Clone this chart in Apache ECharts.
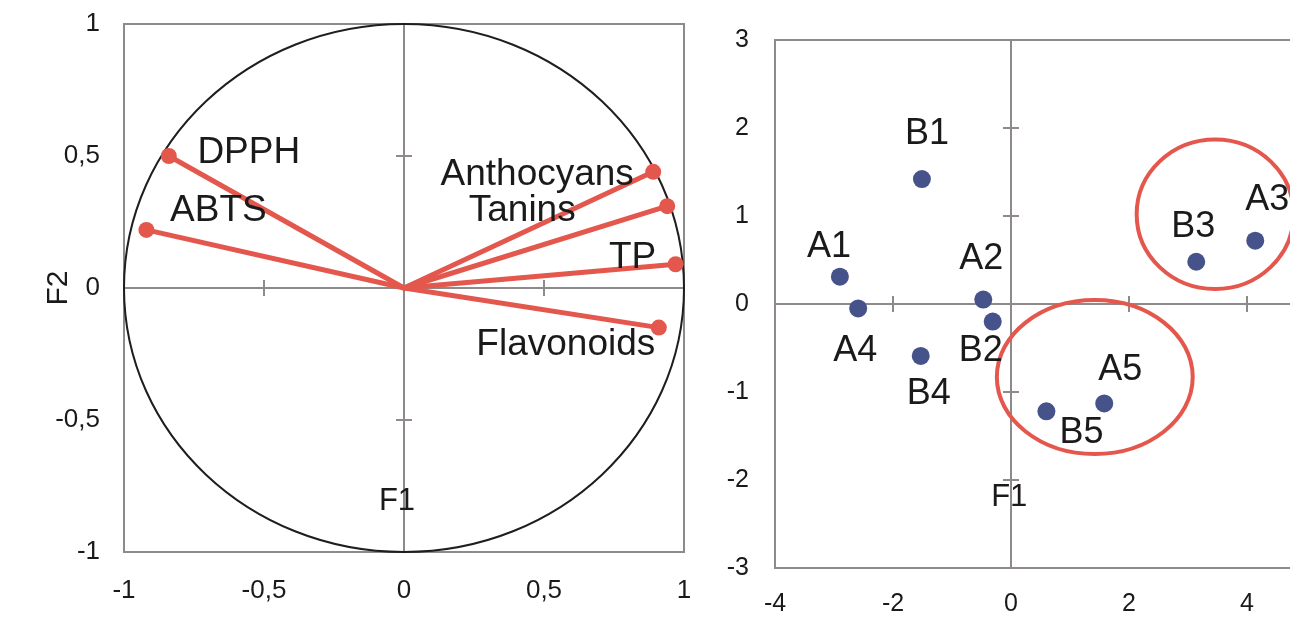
<!DOCTYPE html>
<html>
<head>
<meta charset="utf-8">
<script src="https://cdn.jsdelivr.net/npm/echarts@6/dist/echarts.min.js"></script>
<style>
  html, body { margin: 0; padding: 0; background: #ffffff; }
  #chart { width: 1290px; height: 619px; }
</style>
</head>
<body>
<div id="chart"></div>
<script>
// Correlation circle: loadings of each variable on F1 / F2
const variables = ['DPPH', 'ABTS', 'Anthocyans', 'Tanins', 'TP', 'Flavonoids'];
const varF1 = [-0.84, -0.92, 0.89, 0.94, 0.97, 0.91];
const varF2 = [0.50, 0.22, 0.44, 0.31, 0.09, -0.15];

// Score plot: sample coordinates on F1 / F2
const samples = ['A1', 'A2', 'A3', 'A4', 'A5', 'B1', 'B2', 'B3', 'B4', 'B5'];
const sampleF1 = [-2.90, -0.47, 4.14, -2.59, 1.58, -1.51, -0.31, 3.14, -1.53, 0.60];
const sampleF2 = [0.31, 0.05, 0.72, -0.05, -1.13, 1.42, -0.20, 0.48, -0.59, -1.22];

// Highlighted groups (centre and half-axes, in score units)
const groupCx = [3.46, 1.42];
const groupCy = [1.02, -0.83];
const groupRx = [1.33, 1.66];
const groupRy = [0.85, 0.875];

// Axis ranges and tick steps
const loadRange = [-1, 1], loadStep = 0.5;
const scoreXRange = [-4, 6], scoreXStep = 2;
const scoreYRange = [-3, 3], scoreYStep = 1;

// Label placement (pixel offsets from each marker centre)
const varLabelOffset = {
  DPPH: [80, -3], ABTS: [72, -19], Anthocyans: [-116, 3],
  Tanins: [-145, 5], TP: [-43, -6], Flavonoids: [-93, 17]
};
const sampleLabelOffset = {
  A1: [-11, -30], A2: [-2, -41], A3: [12, -41], A4: [-3, 43], A5: [16, -33],
  B1: [5, -45], B2: [-12, 29], B3: [-3, -35], B4: [8, 38], B5: [35, 22]
};

const FONT = '"Liberation Sans", Arial, sans-serif';
const AXIS_GREY = '#8e8a8a';
const RED = '#e3574d';
const NAVY = '#46528a';
const INK = '#1a1a1a';

const comma = v => String(v).replace('.', ',');

// Three axes per direction per grid: one carrying labels along the frame,
// two sitting on zero (ticks pointing out and in) to draw crossing ticks.
function axisSet(dim, gridIndex, range, step, labelFmt, labelMargin, fontSize, extra) {
  const base = {
    type: 'value', gridIndex, min: range[0], max: range[1], interval: step,
    splitLine: { show: false }
  };
  const frame = Object.assign({}, base, {
    position: dim === 'x' ? 'bottom' : 'left',
    axisLine: { show: false, onZero: false },
    axisTick: { show: false },
    axisLabel: {
      show: true, formatter: labelFmt, margin: labelMargin,
      color: INK, fontSize, fontFamily: FONT,
      showMaxLabel: true, showMinLabel: true
    }
  }, extra || {});
  const zeroOut = Object.assign({}, base, {
    axisLine: { show: true, onZero: true, lineStyle: { color: AXIS_GREY, width: 2 } },
    axisTick: { show: true, inside: false, length: 8, lineStyle: { color: AXIS_GREY, width: 2 } },
    axisLabel: { show: false }
  });
  const zeroIn = Object.assign({}, base, {
    axisLine: { show: false, onZero: true },
    axisTick: { show: true, inside: true, length: 8, lineStyle: { color: AXIS_GREY, width: 2 } },
    axisLabel: { show: false }
  });
  return [frame, zeroOut, zeroIn];
}

const xAxes = [
  ...axisSet('x', 0, loadRange, loadStep, comma, 26, 26),
  ...axisSet('x', 1, scoreXRange, scoreXStep, v => String(v), 24, 25)
];
const yAxes = [
  ...axisSet('y', 0, loadRange, loadStep, comma, 24, 26, {
    name: 'F2', nameLocation: 'middle', nameGap: 50, nameRotate: 90,
    nameMoveOverlap: false,
    nameTextStyle: { color: INK, fontSize: 30, fontFamily: FONT }
  }),
  ...axisSet('y', 1, scoreYRange, scoreYStep, v => String(v), 26, 25)
];

// Loading vectors from the origin
const vectorSeries = {
  type: 'custom', xAxisIndex: 0, yAxisIndex: 0, z: 3, silent: true,
  data: variables.map((n, i) => [varF1[i], varF2[i]]),
  renderItem: (params, api) => {
    const o = api.coord([0, 0]);
    const p = api.coord([api.value(0), api.value(1)]);
    return {
      type: 'line',
      shape: { x1: o[0], y1: o[1], x2: p[0], y2: p[1] },
      style: { stroke: RED, lineWidth: 5, lineCap: 'round' }
    };
  }
};

// Unit circle (radius 1 in loading units)
const circleSeries = {
  type: 'custom', xAxisIndex: 0, yAxisIndex: 0, z: 2, silent: true,
  data: [[0, 0, 1]],
  renderItem: (params, api) => {
    const c = api.coord([api.value(0), api.value(1)]);
    const s = api.size([api.value(2), api.value(2)]);
    return {
      type: 'ellipse',
      shape: { cx: c[0], cy: c[1], rx: s[0], ry: s[1] },
      style: { fill: 'none', stroke: '#1e1e1e', lineWidth: 2 }
    };
  }
};

const vectorEnds = {
  type: 'scatter', xAxisIndex: 0, yAxisIndex: 0, z: 4, silent: true,
  symbol: 'circle', symbolSize: 16,
  itemStyle: { color: RED, opacity: 1 },
  data: variables.map((n, i) => ({
    name: n, value: [varF1[i], varF2[i]],
    label: { offset: varLabelOffset[n] }
  })),
  label: {
    show: true, position: 'inside', formatter: p => p.name,
    color: INK, fontSize: 37, fontFamily: FONT
  }
};

// Group outlines on the score plot
const groupSeries = {
  type: 'custom', xAxisIndex: 3, yAxisIndex: 3, z: 2, silent: true, clip: false,
  data: groupCx.map((cx, i) => [cx, groupCy[i], groupRx[i], groupRy[i]]),
  renderItem: (params, api) => {
    const c = api.coord([api.value(0), api.value(1)]);
    const s = api.size([api.value(2), api.value(3)]);
    return {
      type: 'ellipse',
      shape: { cx: c[0], cy: c[1], rx: s[0], ry: s[1] },
      style: { fill: 'none', stroke: RED, lineWidth: 4 }
    };
  }
};

const sampleSeries = {
  type: 'scatter', xAxisIndex: 3, yAxisIndex: 3, z: 4, silent: true,
  symbol: 'circle', symbolSize: 18,
  itemStyle: { color: NAVY, opacity: 1 },
  data: samples.map((n, i) => ({
    name: n, value: [sampleF1[i], sampleF2[i]],
    label: { offset: sampleLabelOffset[n] }
  })),
  label: {
    show: true, position: 'inside', formatter: p => p.name,
    color: INK, fontSize: 36, fontFamily: FONT
  }
};

// "F1" axis titles written inside each plot, near the vertical zero line
function titleSeries(xIdx, yIdx, pos, size) {
  return {
    type: 'scatter', xAxisIndex: xIdx, yAxisIndex: yIdx, z: 5, silent: true,
    symbolSize: 0,
    itemStyle: { opacity: 1 },
    data: [{ name: 'F1', value: pos }],
    label: {
      show: true, position: 'inside', formatter: 'F1',
      color: INK, fontSize: size, fontFamily: FONT
    }
  };
}

const chart = echarts.init(document.getElementById('chart'), null, { renderer: 'canvas' });
chart.setOption({
  backgroundColor: '#ffffff',
  animation: false,
  grid: [
    { left: 124, top: 24, width: 560, height: 528, show: true, outerBoundsMode: 'none',
      containLabel: false, borderColor: AXIS_GREY, borderWidth: 2, backgroundColor: 'transparent' },
    { left: 775, top: 40, width: 590, height: 528, show: true, outerBoundsMode: 'none',
      containLabel: false, borderColor: AXIS_GREY, borderWidth: 2, backgroundColor: 'transparent' }
  ],
  xAxis: xAxes,
  yAxis: yAxes,
  series: [
    circleSeries, vectorSeries, vectorEnds,
    titleSeries(0, 0, [-0.025, -0.81], 31),
    groupSeries, sampleSeries,
    titleSeries(3, 3, [-0.03, -2.2], 31)
  ]
});
</script>
</body>
</html>
